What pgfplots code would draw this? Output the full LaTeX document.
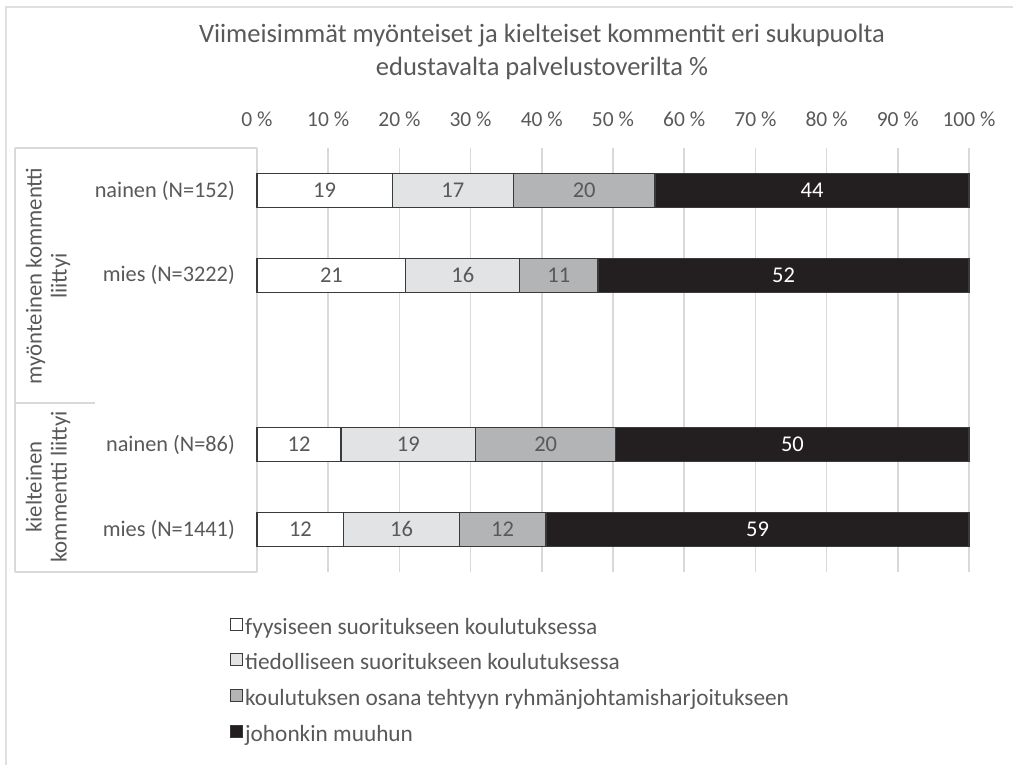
\documentclass[border=0pt]{standalone}
\usepackage{pgfplots}
\pgfplotsset{compat=1.18}
\usepackage{pgfplotstable}
\usepackage{fontspec}
\setmainfont{Carlito}
\definecolor{txt}{HTML}{595959}
\definecolor{gridc}{HTML}{D9D9D9}
\definecolor{framec}{HTML}{E0E0E0}
\definecolor{c1}{HTML}{FFFFFF}
\definecolor{c2}{HTML}{E2E3E4}
\definecolor{c3}{HTML}{B3B4B6}
\definecolor{c4}{HTML}{231F20}
\definecolor{edge}{HTML}{3A3A3A}

\pgfplotstableread{
y a b c d
0 19.0 17.0 19.9 44.1
1 20.9 16.0 11.0 52.1
3 11.8 18.9 19.7 49.6
4 12.2 16.2 12.2 59.4
}\data

\pgfplotsset{
  seg/.style 2 args={
    fill=#1, draw=edge, line width=1.2pt,
    visualization depends on={\thisrow{#2} \as \segv},
    nodes near coords={\pgfmathprintnumber[fixed,precision=0]{\segv}},
    every node near coord/.append style={anchor=center, text=txt,
      font=\fontsize{22.5}{27}\selectfont, text height=14pt, text depth=0pt},
  },
}

\begin{document}
\begin{tikzpicture}[x=1pt,y=1pt]
\useasboundingbox (0,0) rectangle (1013,764);
\draw[framec, line width=2pt] (6,-10) -- (6,757) -- (1030,757);
\node[text=txt, font=\fontsize{26.5}{33}\selectfont, align=center] at (542,712) {Viimeisimmät myönteiset ja kielteiset kommentit eri sukupuolta\\edustavalta palvelustoverilta \%};
\begin{axis}[
  at={(257pt,192pt)}, anchor=south west,
  scale only axis, width=712pt, height=424pt,
  xbar stacked, bar width=34pt,
  xmin=0, xmax=100,
  ymin=-0.5, ymax=4.5, y dir=reverse,
  enlargelimits=false, clip=false,
  ytick={0,1,3,4},
  yticklabels={nainen (N=152), mies (N=3222), nainen (N=86), mies (N=1441)},
  yticklabel style={text=txt, font=\fontsize{22.3}{26}\selectfont, inner sep=0pt, anchor=east, xshift=-22pt},
  xtick={0,10,...,100},
  xticklabels={0 \%,10 \%,20 \%,30 \%,40 \%,50 \%,60 \%,70 \%,80 \%,90 \%,100 \%},
  xticklabel pos=upper,
  xticklabel style={text=txt, font=\fontsize{21.5}{25}\selectfont, anchor=base, yshift=22pt},
  major tick length=0pt,
  axis line style={draw=none},
  xmajorgrids, grid style={gridc, line width=1.5pt},
  /pgf/number format/assume math mode=true,
  legend style={at={(axis description cs:-0.038,-0.106)}, anchor=north west, draw=none, fill=none,
    inner sep=0pt, row sep=11.7pt, font=\fontsize{23.3}{27}\selectfont, text=txt,
    nodes={inner sep=2pt, text height=15pt, text depth=5pt}},
  legend cell align=left,
  legend image code/.code={\draw[#1, line width=1pt] (0pt,-1pt) rectangle (12pt,11pt);},
]
\addplot[seg={c1}{a}] table[x=a, y=y] {\data};
\addplot[seg={c2}{b}] table[x=b, y=y] {\data};
\addplot[seg={c3}{c}] table[x=c, y=y] {\data};
\addplot[seg={c4}{d}, every node near coord/.append style={text=white}] table[x=d, y=y] {\data};
\legend{fyysiseen suoritukseen koulutuksessa, tiedolliseen suoritukseen koulutuksessa, koulutuksen osana tehtyyn ryhmänjohtamisharjoitukseen, johonkin muuhun}
\end{axis}
\draw[gridc, line width=1.5pt] (15,616) -- (15,192);
\draw[gridc, line width=1.5pt] (15,616) -- (257,616);
\draw[gridc, line width=1.5pt] (15,361) -- (95,361);
\draw[gridc, line width=1.5pt] (15,192) -- (257,192);
\node[text=txt, font=\fontsize{22.8}{25}\selectfont, align=center, rotate=90] at (48,488) {myönteinen kommentti\\liittyi};
\node[text=txt, font=\fontsize{22.8}{25}\selectfont, align=center, rotate=90] at (48,277) {kielteinen\\kommentti liittyi};
\end{tikzpicture}
\end{document}
